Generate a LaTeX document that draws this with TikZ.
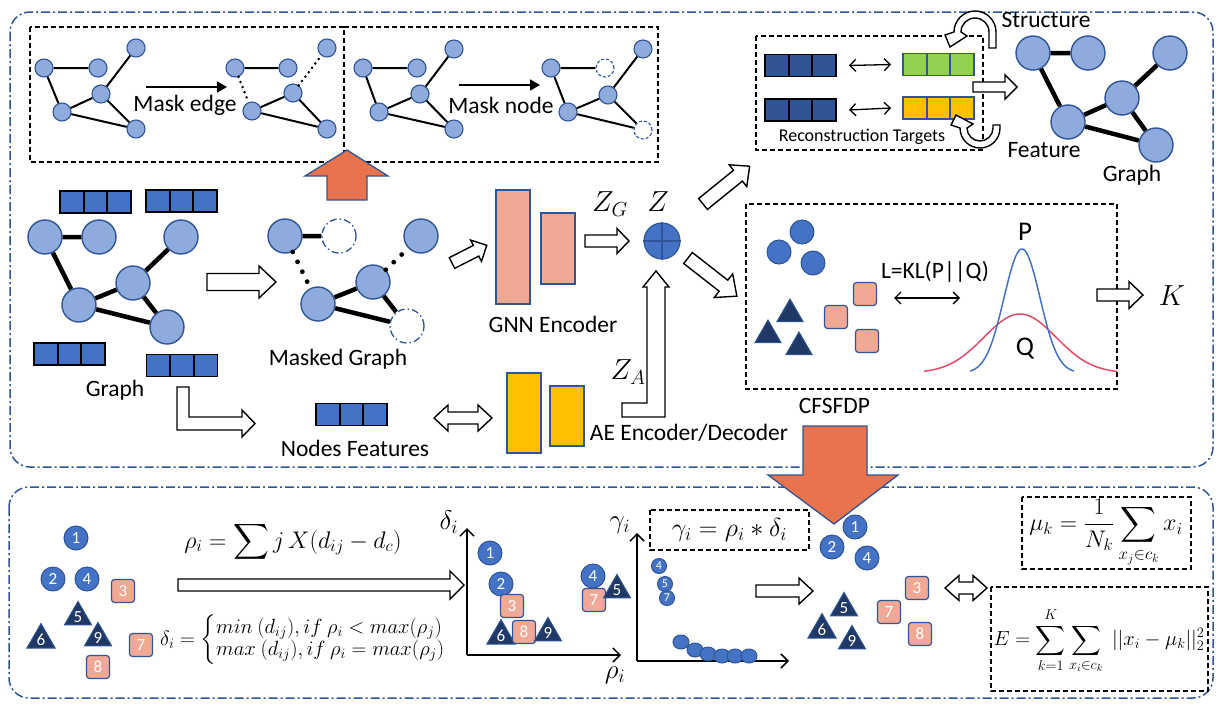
\RequirePackage{fix-cm}
\documentclass[tikz,border=0pt]{standalone}
\usepackage{amsmath}
\usepackage{fontspec}
\setmainfont{Carlito}
\usetikzlibrary{calc,shapes.geometric,arrows.meta}
\definecolor{nodefill}{RGB}{143,170,220}
\definecolor{nodeedge}{RGB}{47,85,151}
\definecolor{featblue}{RGB}{68,114,196}
\definecolor{darkbar}{RGB}{47,85,151}
\definecolor{trifill}{RGB}{32,56,100}
\definecolor{salmon}{RGB}{241,168,148}
\definecolor{orangeA}{RGB}{233,115,76}
\definecolor{yellowA}{RGB}{255,192,0}
\definecolor{greenA}{RGB}{146,208,80}
\definecolor{qred}{RGB}{226,76,103}
\begin{document}
\begin{tikzpicture}[x=1pt,y=-1pt,
  fs/.style={font=\fontsize{#1}{#1}\selectfont},
  lbl/.style={fs=23.5,anchor=base,inner sep=0pt},
  sgn/.style={circle,draw=nodeedge,fill=nodefill,line width=1.1pt,inner sep=0pt,minimum size=18pt},
  sgm/.style={circle,draw=nodeedge,fill=white,line width=1.1pt,inner sep=0pt,minimum size=18pt,dash pattern=on 3pt off 2pt},
  bgn/.style={circle,draw=nodeedge,fill=nodefill,line width=1.4pt,inner sep=0pt,minimum size=34pt},
  bgm/.style={circle,draw=nodeedge,fill=white,line width=1.3pt,inner sep=0pt,minimum size=34pt,dash pattern=on 7pt off 3pt on 1.5pt off 3pt},
  sedge/.style={line width=2pt},
  sdot/.style={line width=2.8pt,line cap=round,dash pattern=on 0pt off 5.5pt},
  bedge/.style={line width=4.5pt},
  bdot/.style={line width=4.8pt,line cap=round,dash pattern=on 0pt off 11pt},
  outerbox/.style={draw=nodeedge,line width=1.5pt,rounded corners=20pt,dash pattern=on 9pt off 3pt on 2pt off 3pt},
  dbox/.style={draw=black,line width=1.5pt,dash pattern=on 5pt off 3pt},
  fbar/.style 2 args={draw=#2,fill=#1,line width=1.8pt,minimum width=71pt,minimum height=22pt,inner sep=0pt,
    path picture={\draw[#2,line width=1.8pt] ($(path picture bounding box.north)+(-11.8,0)$) -- ($(path picture bounding box.south)+(-11.8,0)$);
                  \draw[#2,line width=1.8pt] ($(path picture bounding box.north)+(11.8,0)$) -- ($(path picture bounding box.south)+(11.8,0)$);}},
  encbox/.style={draw=nodeedge,fill=#1,line width=1.6pt,inner sep=0pt,minimum width=34pt},
  blkline/.style={draw=black,fill=white,line width=1.4pt,line join=miter},
  orarrow/.style={fill=orangeA,draw=nodeedge,line width=1.3pt,line join=miter},
  thinarr/.style={-{Triangle[length=10pt,width=11pt]},line width=1.6pt},
  dthin/.style={{Straight Barb[length=6pt,width=12pt]}-{Straight Barb[length=6pt,width=12pt]},line width=1.3pt},
  axisarr/.style={-{Straight Barb[length=7pt,width=14pt]},line width=1.5pt},
  numc/.style={circle,fill=featblue,draw=nodeedge,line width=1pt,minimum size=24pt,inner sep=0pt,text=white,fs=17},
  numt/.style={regular polygon,regular polygon sides=3,fill=trifill,draw=nodeedge,line width=1pt,minimum size=30pt,inner sep=0pt,text=white,fs=17},
  nums/.style={rectangle,rounded corners=3pt,fill=salmon,draw=nodeedge,line width=1.2pt,minimum size=23pt,inner sep=0pt,text=white,fs=17},
  smc/.style={circle,fill=featblue,draw=nodeedge,line width=1pt,minimum size=15pt,inner sep=0pt,text=white,fs=12},
  blob/.style={ellipse,fill=featblue,draw=nodeedge,line width=1pt,minimum width=16pt,minimum height=14pt,inner sep=0pt},
  pics/barrow/.style n args={4}{code={\draw[blkline] (0,-#2/2) -- ({#1-#4},-#2/2) -- ({#1-#4},-#3/2) -- (#1,0) -- ({#1-#4},#3/2) -- ({#1-#4},#2/2) -- (0,#2/2) -- cycle;}},
  pics/dbarrow/.style n args={4}{code={\draw[blkline] (0,0) -- (#4,-#3/2) -- (#4,-#2/2) -- ({#1-#4},-#2/2) -- ({#1-#4},-#3/2) -- (#1,0) -- ({#1-#4},#3/2) -- ({#1-#4},#2/2) -- (#4,#2/2) -- (#4,#3/2) -- cycle;}}
]
\useasboundingbox (0,0) rectangle (1220,707);

% ---------- outer frames ----------
\draw[outerbox] (10,12) rectangle (1213,467);
\draw[outerbox] (9,487) rectangle (1213,698);

% ---------- mask boxes ----------
\draw[dbox] (30,27) rectangle (344,162);
\draw[dbox] (344,27) -- (658,27) -- (658,162) -- (344,162);

% mask edge: original graph
\foreach \n/\x/\y in {a/44/68,b/98/68,c/136/48,d/101/94,e/62/112,f/136/129}
  \node[sgn] (e\n) at (\x,\y) {};
\draw[sedge] (ea)--(eb) (ea)--(ee) (ee)--(ed) (ed)--(ec) (ed)--(ef) (ee)--(ef);
% mask edge: result
\foreach \n/\x/\y in {a/235/68,b/288/68,c/327/48,d/293/93,e/252/111,f/327/129}
  \node[sgn] (r\n) at (\x,\y) {};
\draw[sedge] (ra)--(rb) (re)--(rd) (rd)--(rf) (re)--(rf);
\draw[sdot] (ra)--(re) (rd)--(rc);
\coordinate (me1) at (146,87); \coordinate (me2) at (227,87);
\draw[thinarr] (me1)--(me2);
\node[lbl] (tme) at (185,111) {Mask edge};

% mask node: original graph
\foreach \n/\x/\y in {a/363/68,b/417/68,c/454/49,d/420/94,e/379/112,f/454/129}
  \node[sgn] (n\n) at (\x,\y) {};
\draw[sedge] (na)--(nb) (na)--(ne) (ne)--(nd) (nd)--(nc) (nd)--(nf) (ne)--(nf);
% mask node: result
\foreach \n/\x/\y in {a/551/68,c/643/49,d/608/95,e/568/112}
  \node[sgn] (q\n) at (\x,\y) {};
\node[sgm] (qb) at (605,68) {};
\node[sgm] (qf) at (643,130) {};
\draw[sedge] (qa)--(qb) (qa)--(qe) (qe)--(qd) (qd)--(qc) (qd)--(qf) (qe)--(qf);
\coordinate (mn1) at (459,85); \coordinate (mn2) at (540,85);
\draw[thinarr] (mn1)--(mn2);
\node[lbl] (tmn) at (501,113) {Mask node};

% orange up arrow
\draw[orarrow] (327,200) -- (327,176) -- (305,176) -- (347,150) -- (388,176) -- (367,176) -- (367,200) -- cycle;

% ---------- left graph ----------
\foreach \n/\x/\y in {1/45/237,2/99/237,3/181/237,4/133/283,5/79/305,6/167/327}
  \node[bgn] (g\n) at (\x,\y) {};
\draw[bedge] (g1)--(g2) (g1)--(g5) (g5)--(g4) (g4)--(g3) (g4)--(g6) (g5)--(g6);
\node[fbar={featblue}{black}] (gb1) at (95.5,202) {};
\node[fbar={featblue}{black}] (gb2) at (181.5,201) {};
\node[fbar={featblue}{black}] (gb3) at (69.5,354) {};
\node[fbar={featblue}{black}] (gb4) at (182,365.5) {};
\node[lbl] (tgraph) at (115,396) {Graph};

\pic at (207,282) {barrow={69}{17}{32}{17}};

% ---------- masked graph ----------
\node[bgn] (m1) at (285,236) {};
\node[bgm] (m2) at (339,236) {};
\node[bgn] (m3) at (421,236) {};
\node[bgn] (m4) at (373,282) {};
\node[bgn] (m5) at (318,304) {};
\node[bgm] (m6) at (407,326) {};
\draw[bedge] (m1)--(m2) (m5)--(m4) (m4)--(m6) (m5)--(m6);
\draw[bdot] (m1)--(m5) (m4)--(m3);
\node[lbl] (tmasked) at (338,365) {Masked Graph};

% L arrow to node features
\draw[blkline] (177,387) -- (189,387) -- (189,417) -- (242,417) -- (242,410) -- (255,423.5) -- (242,437) -- (242,430) -- (177,430) -- cycle;
\node[fbar={featblue}{black}] (nf) at (351.5,414.5) {};
\node[lbl] (tnf) at (355,456) {Nodes Features};
\pic at (434,418) {dbarrow={58}{12}{26}{14}};

% ---------- encoders ----------
\pic[rotate=27] at (452,263) {barrow={39}{12}{24}{12}};
\node[encbox=salmon,minimum height=114pt] (gnn1) at (513,247) {};
\node[encbox=salmon,minimum height=71pt] (gnn2) at (558,248.5) {};
\node[lbl] (tgnn) at (553,332) {GNN Encoder};
\node[encbox=yellowA,minimum height=80pt] (ae1) at (524,413) {};
\node[encbox=yellowA,minimum height=60pt] (ae2) at (567,416) {};
\node[lbl] (tae) at (689,440) {AE Encoder/Decoder};

\pic at (585,241) {barrow={44}{12}{25}{12}};
\node[fs=29] (tzg) at (610,204) {$Z_G$};
\node[fs=29] (tz) at (658,202) {$Z$};
\node[circle,fill=featblue,draw=nodeedge,line width=1.2pt,minimum size=36pt,inner sep=0pt] (zc) at (662,241) {};
\draw[nodeedge,line width=1.2pt] (zc.north)--(zc.south) (zc.west)--(zc.east);
\draw[blkline] (622,403) -- (647,403) -- (647,287) -- (643,287) -- (656,271) -- (669,287) -- (665,287) -- (665,417) -- (622,417) -- cycle;
\node[fs=29] (tza) at (628,372) {$Z_A$};

\pic[rotate=39] at (703,204) {barrow={60}{14}{28}{15}};
\pic[rotate=-38] at (688,258) {barrow={62}{14}{30}{17}};

% ---------- reconstruction ----------
\draw[dbox] (756,36) rectangle (983,150);
\node[fbar={darkbar}{black}] (rb1) at (800.5,65.5) {};
\node[fbar={darkbar}{black}] (rb2) at (800.5,110) {};
\node[fbar={greenA}{nodeedge}] (rg) at (938.5,64.5) {};
\node[fbar={yellowA}{nodeedge}] (ry) at (938.5,108) {};
\draw[dthin] (rb1.east)++(12,0) coordinate (da1) -- ($(rg.west)+(-11,0)$) coordinate (da2);
\draw[dthin] (rb2.east)++(12,0) coordinate (db1) -- ($(ry.west)+(-11,0)$) coordinate (db2);
\node[fs=18,anchor=base,inner sep=0pt] (trt) at (862,141) {Reconstruction Targets};
\coordinate (T) at (975,32);
\draw[blkline] ($(T)+(21,16)$) -- ($(T)+(21,0)$) arc[start angle=0,end angle=-180,radius=21] -- ($(T)+(-30,3)$) -- ($(T)+(-25,15)$) -- ($(T)+(-8,4)$) -- ($(T)+(-14,0)$) arc[start angle=-180,end angle=0,radius=14] -- ($(T)+(14,16)$) -- cycle;
\coordinate (B) at (980,128);
\draw[blkline] ($(B)+(20,-3)$) -- ($(B)+(20,0)$) arc[start angle=0,end angle=180,radius=20] -- ($(B)+(-29,-3)$) -- ($(B)+(-24,-13)$) -- ($(B)+(-7,-4)$) -- ($(B)+(-13,0)$) arc[start angle=180,end angle=0,radius=13] -- ($(B)+(13,-3)$) -- cycle;
\node[lbl] (tstr) at (1046,27) {Structure};
\node[lbl] (tfeat) at (1044,157) {Feature};
\pic at (973,87) {barrow={44}{10}{24}{12}};
\foreach \n/\x/\y in {1/1033/53,2/1088/53,3/1170/53,4/1122/98,5/1068/122,6/1156/145}
  \node[bgn] (h\n) at (\x,\y) {};
\draw[bedge] (h1)--(h2) (h1)--(h5) (h5)--(h4) (h4)--(h3) (h4)--(h6) (h5)--(h6);
\node[lbl] (tgraph2) at (1132,181) {Graph};

% ---------- CFSFDP ----------
\draw[dbox] (746,204) rectangle (1117,389);
\node[numc] (k1) at (779,252) {};
\node[numc] (k2) at (802,232) {};
\node[numc] (k3) at (813,263) {};
\node[numt] (k4) at (790,314) {};
\node[numt] (k5) at (768,335) {};
\node[numt] (k6) at (799,347) {};
\node[nums] (k7) at (865,294) {};
\node[nums] (k8) at (836,317) {};
\node[nums] (k9) at (867,341) {};
\node[lbl] (tkl) at (935,278) {L=KL(P||Q)};
\coordinate (kl1) at (894,298); \coordinate (kl2) at (960,298);
\draw[dthin] (kl1)--(kl2);
\draw[qred,line width=1.5pt] plot[domain=924:1117,samples=90] (\x,{373-59*exp(-0.5*((\x-1020)/36)*((\x-1020)/36))});
\draw[featblue,line width=1.5pt] plot[domain=970:1074,samples=90] (\x,{373-124*exp(-0.5*((\x-1022)/18)*((\x-1022)/18))});
\node[fs=27,anchor=base,inner sep=0pt] (tp) at (1025,240) {P};
\node[fs=27,anchor=base,inner sep=0pt] (tq) at (1025,355) {Q};
\pic at (1097,295) {barrow={46}{12}{27}{14}};
\node[fs=29] (tk) at (1172,296) {$K$};
\node[lbl] (tcf) at (834.5,413) {CFSFDP};

% orange down arrow
\draw[orarrow] (803,426) -- (867,426) -- (867,475) -- (898,475) -- (834,524) -- (768,475) -- (803,475) -- cycle;

% ---------- bottom: initial points ----------
\node[numc] (a1) at (76,538) {1};
\node[numc] (a2) at (53,579) {2};
\node[numc] (a4) at (87,579) {4};
\node[nums] (a3) at (123,591) {3};
\node[numt] (a5) at (78,617) {5};
\node[numt] (a6) at (41,640) {6};
\node[numt] (a9) at (98,638) {9};
\node[nums] (a7) at (141,645) {7};
\node[nums] (a8) at (98,667) {8};

\node[fs=24] (frho) at (293,542) {$\rho_i=\displaystyle\sum j\,X(d_{ij}-d_c)$};
\pic at (178,585) {barrow={286}{12}{28}{14}};
\node[font=\fontsize{20.6}{18.5}\selectfont] (fdelta) at (313,640) {$\delta_i=\begin{cases}min\ (d_{ij}), if\ \rho_i<max(\rho_j)\\ max\ (d_{ij}), if\ \rho_i=max(\rho_j)\end{cases}$};

% ---------- plot 1 ----------
\coordinate (o1) at (467,655); \coordinate (o1y) at (467,528); \coordinate (o1x) at (621,655);
\draw[axisarr] (o1)--(o1y);
\draw[axisarr] (o1)--(o1x);
\node[fs=27] (tdel) at (449,522) {$\delta_i$};
\node[fs=27] (trho) at (615,675) {$\rho_i$};
\node[numc] (p1) at (490,553) {1};
\node[numc] (p2) at (501,584) {2};
\node[nums] (p3) at (512,606) {3};
\node[numt] (p6) at (501,636) {6};
\node[nums] (p8) at (524,632) {8};
\node[numt] (p9) at (548,633) {9};
\node[numc] (p4) at (593,576) {4};
\node[nums] (p7) at (594,600) {7};
\node[numt] (p5) at (617,590) {5};

% ---------- plot 2 ----------
\coordinate (o2) at (637,661); \coordinate (o2y) at (637,533); \coordinate (o2x) at (789,661);
\draw[axisarr] (o2)--(o2y);
\draw[axisarr] (o2)--(o2x);
\node[fs=27] (tgam) at (620,525) {$\gamma_i$};
\draw[dbox] (650,510) rectangle (809,550);
\node[fs=26] (fgam) at (729.5,530) {$\gamma_i=\rho_i*\delta_i$};
\node[smc] (s4) at (659,566) {4};
\node[smc] (s5) at (665,584) {5};
\node[smc] (s7) at (667,598) {7};
\foreach \i/\x/\y in {1/681/642,2/695/650,3/708/654,4/722/656,5/735/656,6/749/656}
  \node[blob] (bl\i) at (\x,\y) {};
\pic at (756,591) {barrow={57}{12}{26}{14}};

% ---------- result ----------
\node[numc] (c1) at (855,527) {1};
\node[numc] (c2) at (832,547) {2};
\node[numc] (c4) at (867,558) {4};
\node[nums] (c3) at (917,588) {3};
\node[nums] (c7) at (889,612) {7};
\node[nums] (c8) at (920,634) {8};
\node[numt] (c5) at (844,608) {5};
\node[numt] (c6) at (822,630) {6};
\node[numt] (c9) at (852,641) {9};
\pic at (945,588) {dbarrow={42}{12}{25}{14}};

\draw[dbox] (1022,497) rectangle (1191,569);
\node[fs=24] (fmu) at (1106,533) {$\mu_k=\dfrac{1}{N_k}\displaystyle\sum_{x_j\in c_k}x_i$};
\draw[dbox] (991,587) rectangle (1208,691);
\node[fs=20.5] (fe) at (1099,641) {$E=\displaystyle\sum_{k=1}^{K}\sum_{x_i\in c_k}\;||x_i-\mu_k||_2^2$};
\end{tikzpicture}
\end{document}
